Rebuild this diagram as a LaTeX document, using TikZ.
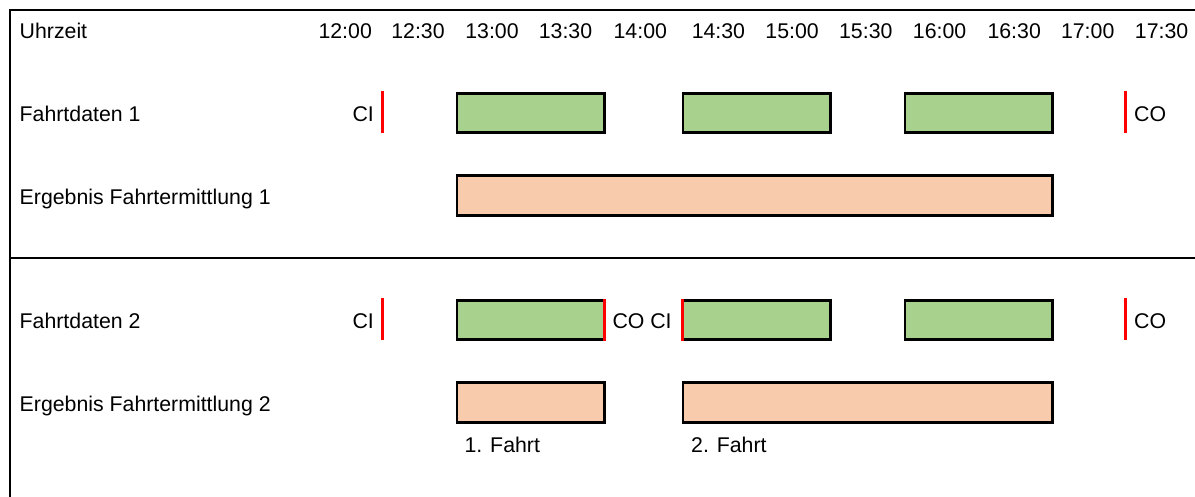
\documentclass[tikz,border=0pt]{standalone}
\usepackage{fontspec}
\setmainfont{Liberation Sans}
\definecolor{fgreen}{RGB}{169,209,142}
\definecolor{forange}{RGB}{248,203,173}
\definecolor{fred}{RGB}{255,0,0}
\begin{document}
\begin{tikzpicture}[x=1pt,y=-1pt,
  every node/.style={font=\fontsize{21.3}{25}\selectfont},
  rowlabel/.style={anchor=base west, inner sep=0pt},
  timelabel/.style={anchor=base, inner sep=0pt},
  eastlabel/.style={anchor=base east, inner sep=0pt},
  bar/.style={draw=black, line width=2.8pt, minimum height=39.5pt, inner sep=0pt, outer sep=0pt},
  drive/.style={bar, fill=fgreen, minimum width=147.5pt},
  result/.style={bar, fill=forange},
  redtick/.style={draw=fred, line width=3pt},
  rule/.style={line width=2.5pt}]
\useasboundingbox (0,0) rectangle (1195,497);

% frame
\draw[rule] (10.2,497) -- (10.2,10.2) -- (1195,10.2);
\draw[rule] (10.2,257.8) -- (1195,257.8);

% header
\node[rowlabel] (uhr) at (19.5,39) {Uhrzeit};
\node[timelabel] (t1200) at (345.2,39) {12:00};
\node[timelabel] (t1230) at (418,39) {12:30};
\node[timelabel] (t1300) at (492,39) {13:00};
\node[timelabel] (t1330) at (565.5,39) {13:30};
\node[timelabel] (t1400) at (640.3,39) {14:00};
\node[timelabel] (t1430) at (718.4,39) {14:30};
\node[timelabel] (t1500) at (792.1,39) {15:00};
\node[timelabel] (t1530) at (865.8,39) {15:30};
\node[timelabel] (t1600) at (939.6,39) {16:00};
\node[timelabel] (t1630) at (1014.2,39) {16:30};
\node[timelabel] (t1700) at (1087.7,39) {17:00};
\node[timelabel] (t1730) at (1161.6,39) {17:30};

% row labels
\node[rowlabel] (fd1) at (19.5,121.5) {Fahrtdaten 1};
\node[rowlabel] (ef1) at (19.5,204.5) {Ergebnis Fahrtermittlung 1};
\node[rowlabel] (fd2) at (19.5,328) {Fahrtdaten 2};
\node[rowlabel] (ef2) at (19.5,411) {Ergebnis Fahrtermittlung 2};

% Fahrtdaten 1
\node[drive] (g11) at (530.75,112.9) {};
\node[drive] (g12) at (756.75,112.9) {};
\node[drive] (g13) at (978.75,112.9) {};
\draw[redtick] (382.3,91) -- (382.3,133.3);
\draw[redtick] (1125.3,91) -- (1125.3,133.3);
\node[eastlabel] (ci1) at (374,121.5) {CI};
\node[rowlabel] (co1) at (1134,121.5) {CO};

% Ergebnis 1
\node[result, minimum width=595.5pt] (o11) at (754.75,195.4) {};

% Fahrtdaten 2
\node[drive] (g21) at (530.75,320) {};
\node[drive] (g22) at (756.75,320) {};
\node[drive] (g23) at (978.75,320) {};
\draw[redtick] (382.2,298.3) -- (382.2,340.3);
\draw[redtick] (604.6,299) -- (604.6,341);
\draw[redtick] (682.3,299) -- (682.3,341);
\draw[redtick] (1125.3,298.3) -- (1125.3,340.3);
\node[eastlabel] (ci2) at (374,328) {CI};
\node[rowlabel] (coci) at (612.3,328) {CO CI};
\node[rowlabel] (co2) at (1134,328) {CO};

% Ergebnis 2
\node[result, minimum width=147.5pt] (o21) at (530.75,402.4) {};
\node[result, minimum width=369.5pt] (o22) at (867.75,402.4) {};
\node[rowlabel] (f1) at (464.4,452.5) {1. Fahrt};
\node[rowlabel] (f2) at (691,452.5) {2. Fahrt};
\end{tikzpicture}
\end{document}
